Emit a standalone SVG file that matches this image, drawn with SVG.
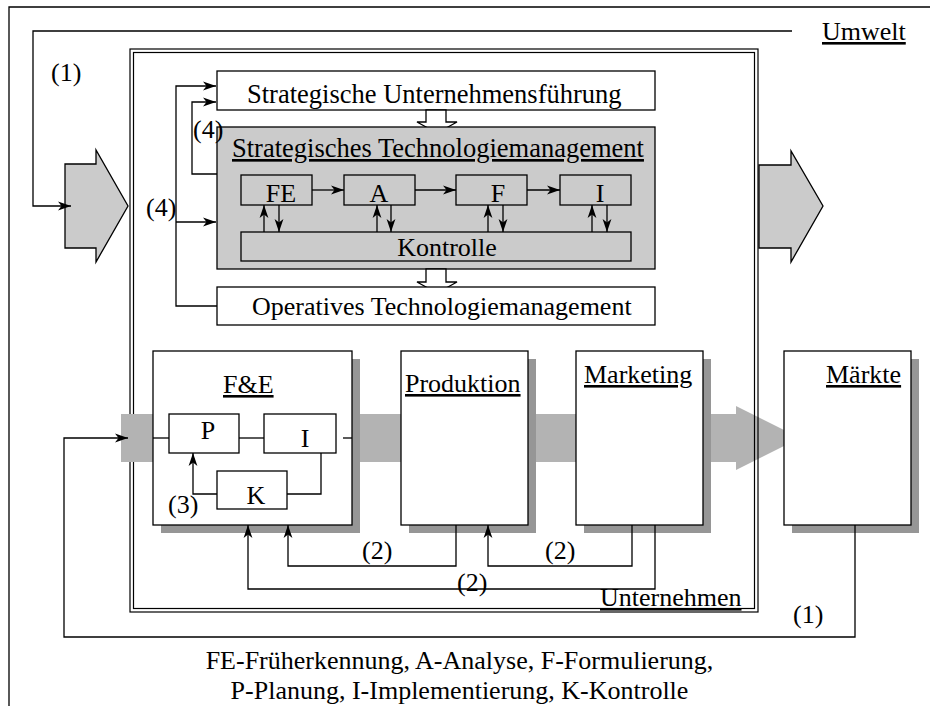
<svg xmlns="http://www.w3.org/2000/svg" width="930" height="706" viewBox="0 0 930 706">
  <defs>
    <style>
      .ln { fill: none; stroke: #000; stroke-width: 1.3; }
      .arr { fill: none; stroke: #000; stroke-width: 1.3; marker-end: url(#ah); }
      .box { fill: #fff; stroke: #000; stroke-width: 1.3; }
      .gbox { fill: #cbcbcb; stroke: #000; stroke-width: 1.3; }
      .shadow { fill: #969696; }
      .band { fill: #b3b3b3; }
      text { font-family: "Liberation Serif", "Times New Roman", serif; font-size: 26px; fill: #000; }
      .big { font-size: 26.5px; }
      .u { text-decoration: underline; text-decoration-skip-ink: none; }
      .mid { text-anchor: middle; }
    </style>
    <marker id="ah" viewBox="0 0 14 10" refX="13" refY="5" markerWidth="14" markerHeight="10" markerUnits="userSpaceOnUse" orient="auto">
      <path d="M0,0.6 L13,5 L0,9.4 L3.5,5 Z" fill="#000"/>
    </marker>
  </defs>

  <rect width="930" height="706" fill="#fff"/>

  <!-- environment frame -->
  <g id="umwelt">
    <path class="ln" d="M9,706 V7 H930"/>
    <text x="822" y="40" class="u">Umwelt</text>
  </g>

  <!-- value-chain band -->
  <g id="wertschoepfung">
    <path class="band" d="M121,414 H736 V406 L800,438 L736,470 V462 H121 Z"/>
  </g>

  <!-- company frame -->
  <g id="unternehmen">
    <rect x="130" y="49" width="628" height="563" fill="none" stroke="#000" stroke-width="1.2"/>
    <rect x="133.5" y="52.5" width="621" height="556" fill="none" stroke="#000" stroke-width="1.2"/>
    <text x="600" y="606" class="u">Unternehmen</text>
  </g>
  <rect class="band" x="121" y="414" width="32" height="48"/>

  <!-- input / output arrows -->
  <g id="input">
    <path class="gbox" d="M65,164 H96 V150 L128,206 L96,262 V248 H65 Z"/>
  </g>
  <g id="output">
    <path class="gbox" d="M759,165 H791 V151 L823,206 L791,262 V248 H759 Z"/>
  </g>

  <!-- management levels -->
  <g id="strat-unternehmensfuehrung">
    <rect class="box" x="217" y="71" width="438" height="39"/>
    <text x="247" y="103" class="big">Strategische Unternehmensführung</text>
  </g>
  <g id="pfeil-1">
    <path class="box" d="M426,110 V122 H417 L437,133 L457,122 H446 V110 Z"/>
  </g>
  <g id="strat-technologiemanagement">
    <rect class="gbox" x="217" y="127" width="438" height="142"/>
    <text x="232" y="157" class="u big">Strategisches Technologiemanagement</text>
  </g>
  <g id="fe">
    <rect class="gbox" x="241" y="175" width="71" height="30"/>
    <text x="281" y="202" class="mid">FE</text>
  </g>
  <g id="a">
    <rect class="gbox" x="344" y="175" width="71" height="30"/>
    <text x="379" y="202" class="mid">A</text>
  </g>
  <g id="f">
    <rect class="gbox" x="456" y="175" width="71" height="30"/>
    <text x="498" y="202" class="mid">F</text>
  </g>
  <g id="i">
    <rect class="gbox" x="560" y="175" width="71" height="30"/>
    <text x="600" y="202" class="mid">I</text>
  </g>
  <g id="kontrolle">
    <rect class="gbox" x="241" y="232" width="390" height="29"/>
    <text x="447" y="256" class="mid">Kontrolle</text>
  </g>
  <g id="pfeil-2">
    <path class="box" d="M426,269 V282 H417 L437,293 L457,282 H446 V269 Z"/>
  </g>
  <g id="op-technologiemanagement">
    <rect class="box" x="217" y="287" width="438" height="38"/>
    <text x="252" y="315">Operatives Technologiemanagement</text>
  </g>

  <!-- functional areas -->
  <g id="fue">
    <rect class="shadow" x="161" y="359" width="199" height="174"/>
    <rect class="box" x="153" y="351" width="199" height="174"/>
    <text x="223" y="393" class="u">F&amp;E</text>
  </g>
  <g id="p">
    <rect class="box" x="169" y="414" width="70" height="39"/>
    <text x="208" y="439" class="mid">P</text>
  </g>
  <g id="fue-i">
    <rect class="box" x="264" y="414" width="72" height="39"/>
    <text x="305" y="447" class="mid">I</text>
  </g>
  <g id="k">
    <rect class="box" x="217" y="471" width="70" height="38"/>
    <text x="256" y="504" class="mid">K</text>
  </g>
  <g id="produktion">
    <rect class="shadow" x="409" y="359" width="127" height="174"/>
    <rect class="box" x="401" y="351" width="127" height="174"/>
    <text x="405" y="392" class="u">Produktion</text>
  </g>
  <g id="marketing">
    <rect class="shadow" x="584" y="359" width="127" height="174"/>
    <rect class="box" x="576" y="351" width="127" height="174"/>
    <text x="584" y="383" class="u">Marketing</text>
  </g>
  <g id="maerkte">
    <rect class="shadow" x="792" y="359" width="127" height="174"/>
    <rect class="box" x="784" y="351" width="127" height="174"/>
    <text x="826" y="383" class="u">Märkte</text>
  </g>

  <!-- connectors -->
  <g id="connectors">
    <path class="arr" d="M792,31 H33 V206 H71"/>
    <path class="arr" d="M217,306 H176 V86 H216"/>
    <path class="arr" d="M176,222 H216"/>
    <path class="arr" d="M217,174 H192 V102 H216"/>
    <path class="arr" d="M312,190 H344"/>
    <path class="arr" d="M415,190 H456"/>
    <path class="arr" d="M527,190 H560"/>
    <path class="arr" d="M264,232 V205"/>
    <path class="arr" d="M279,205 V232"/>
    <path class="arr" d="M377,232 V205"/>
    <path class="arr" d="M391,205 V232"/>
    <path class="arr" d="M488,232 V205"/>
    <path class="arr" d="M503,205 V232"/>
    <path class="arr" d="M592,232 V205"/>
    <path class="arr" d="M607,205 V232"/>
    <path class="ln" d="M153,438 H169"/>
    <path class="ln" d="M239,438 H264"/>
    <path class="ln" d="M343,438 H352"/>
    <path class="ln" d="M321,453 V494 H287"/>
    <path class="arr" d="M217,494 H193 V453"/>
    <path class="arr" d="M456,525 V566 H288 V525"/>
    <path class="arr" d="M632,525 V566 H488 V525"/>
    <path class="arr" d="M655,525 V589 H248 V525"/>
    <path class="arr" d="M855,525 V637 H64 V438 H128"/>
  </g>

  <!-- loop labels -->
  <g id="labels">
    <text x="51" y="80.5">(1)</text>
    <text x="193" y="137.5">(4)</text>
    <text x="146" y="215.5">(4)</text>
    <text x="168" y="512.5">(3)</text>
    <text x="362" y="559">(2)</text>
    <text x="545" y="559">(2)</text>
    <text x="457" y="591">(2)</text>
    <text x="793" y="622.5">(1)</text>
  </g>

  <!-- legend -->
  <g id="legende">
    <text x="459.5" y="669" class="mid">FE-Früherkennung, A-Analyse, F-Formulierung,</text>
    <text x="459.5" y="699" class="mid">P-Planung, I-Implementierung, K-Kontrolle</text>
  </g>
</svg>
